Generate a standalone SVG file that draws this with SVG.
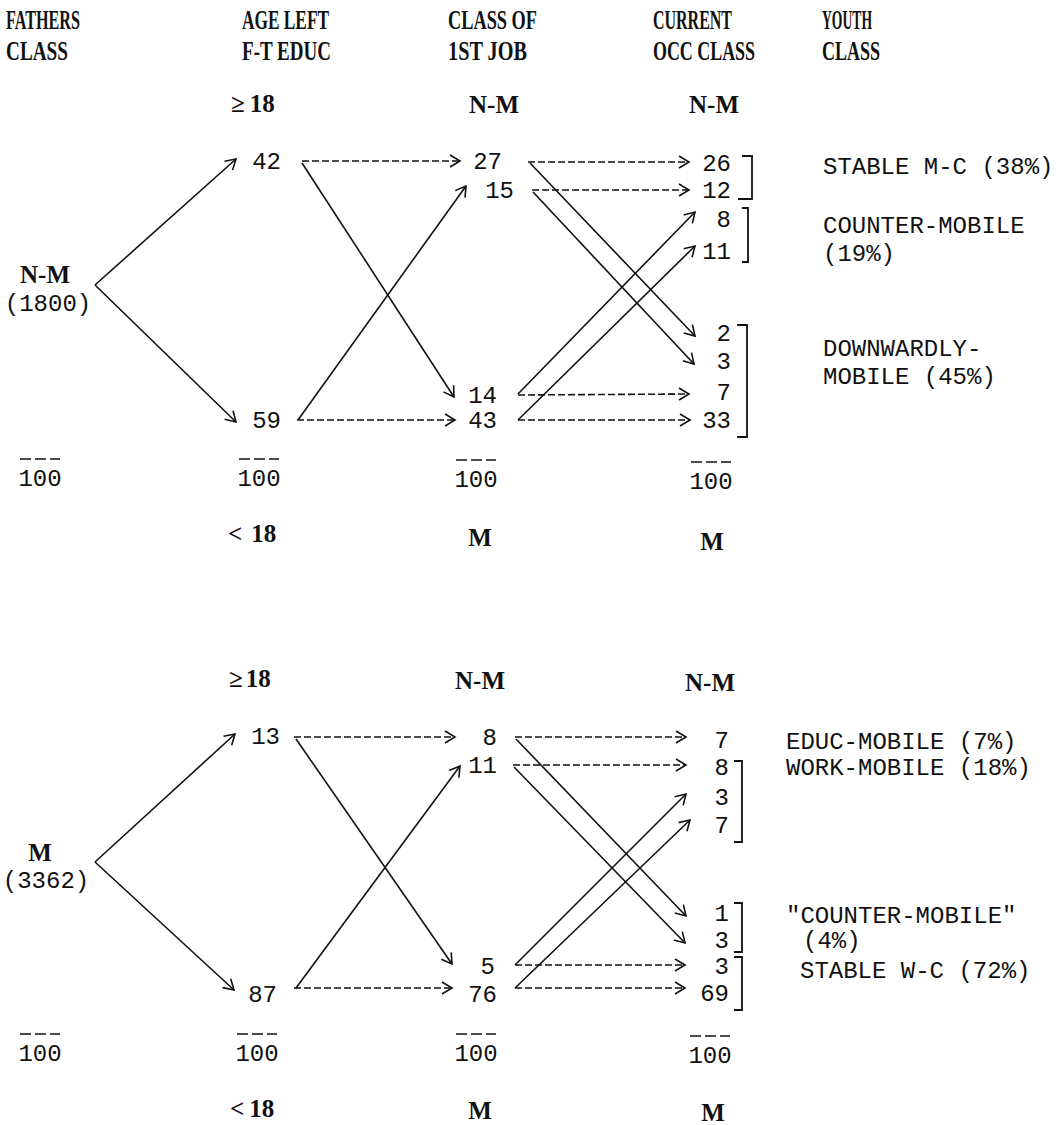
<svg xmlns="http://www.w3.org/2000/svg" width="1060" height="1125" viewBox="0 0 1060 1125">
<defs>
<marker id="ah" markerUnits="userSpaceOnUse" markerWidth="14" markerHeight="14" refX="11" refY="6" orient="auto" overflow="visible">
<path d="M1,0 L11,6 L1,12" fill="none" stroke="#111" stroke-width="1.6" stroke-linejoin="miter"/>
</marker>
<style>
.h{font-family:"Liberation Serif",serif;font-weight:bold;font-size:27px;fill:#111}
.n{font-family:"Liberation Mono",monospace;font-size:24px;fill:#111}
.b{font-family:"Liberation Serif",serif;font-weight:bold;font-size:25px;fill:#111}
.e{text-anchor:end}
.m{text-anchor:middle}
.c line,.c path{stroke:#111;stroke-width:1.6;fill:none}
.c .d{stroke-dasharray:7 3}
.ol{stroke:#111;stroke-width:1.5;stroke-dasharray:11 4;fill:none}
.br{stroke:#111;stroke-width:1.8;fill:none}
</style>
</defs>
<rect width="1060" height="1125" fill="#fff"/>

<g id="headers">
<text class="h" x="6" y="29" textLength="74" lengthAdjust="spacingAndGlyphs">FATHERS</text>
<text class="h" x="6" y="60" textLength="62" lengthAdjust="spacingAndGlyphs">CLASS</text>
<text class="h" x="242" y="29" textLength="87" lengthAdjust="spacingAndGlyphs">AGE LEFT</text>
<text class="h" x="242" y="60" textLength="89" lengthAdjust="spacingAndGlyphs">F-T EDUC</text>
<text class="h" x="448" y="29" textLength="89" lengthAdjust="spacingAndGlyphs">CLASS OF</text>
<text class="h" x="448" y="60" textLength="79" lengthAdjust="spacingAndGlyphs">1ST JOB</text>
<text class="h" x="653" y="29" textLength="79" lengthAdjust="spacingAndGlyphs">CURRENT</text>
<text class="h" x="653" y="60" textLength="102" lengthAdjust="spacingAndGlyphs">OCC CLASS</text>
<text class="h" x="822" y="29" textLength="50" lengthAdjust="spacingAndGlyphs">YOUTH</text>
<text class="h" x="822" y="60" textLength="58" lengthAdjust="spacingAndGlyphs">CLASS</text>
</g>

<!-- ===== TOP SECTION ===== -->
<g id="top-col-labels">
<text class="b" x="231" y="112">≥<tspan dx="5">18</tspan></text>
<text class="b m" x="494" y="113">N-M</text>
<text class="b m" x="714" y="113">N-M</text>
<text class="b" x="228" y="542">&lt;<tspan dx="9">18</tspan></text>
<text class="b m" x="480" y="546">M</text>
<text class="b m" x="712" y="550">M</text>
</g>
<g id="top-father">
<text class="b m" x="45" y="283">N-M</text>
<text class="n m" x="48" y="311">(1800)</text>
</g>
<g id="top-age-42"><text class="n e" x="281" y="169">42</text></g>
<g id="top-age-59"><text class="n e" x="281" y="428">59</text></g>
<g id="top-job-27"><text class="n e" x="502" y="169">27</text></g>
<g id="top-job-15"><text class="n e" x="514" y="198">15</text></g>
<g id="top-job-14"><text class="n e" x="497" y="403">14</text></g>
<g id="top-job-43"><text class="n e" x="497" y="428">43</text></g>
<g id="top-occ-26"><text class="n e" x="731" y="171">26</text></g>
<g id="top-occ-12"><text class="n e" x="731" y="198">12</text></g>
<g id="top-occ-8"><text class="n e" x="731" y="227">8</text></g>
<g id="top-occ-11"><text class="n e" x="731" y="259">11</text></g>
<g id="top-occ-2"><text class="n e" x="731" y="341">2</text></g>
<g id="top-occ-3"><text class="n e" x="731" y="369">3</text></g>
<g id="top-occ-7"><text class="n e" x="731" y="400">7</text></g>
<g id="top-occ-33"><text class="n e" x="731" y="428">33</text></g>
<g id="top-totals">
<text class="n m" x="40" y="486">100</text><line class="ol" x1="20" y1="459" x2="60" y2="459"/>
<text class="n m" x="259" y="486">100</text><line class="ol" x1="239" y1="459" x2="279" y2="459"/>
<text class="n m" x="476" y="487">100</text><line class="ol" x1="456" y1="460" x2="496" y2="460"/>
<text class="n m" x="711" y="489">100</text><line class="ol" x1="691" y1="462" x2="731" y2="462"/>
</g>
<g id="top-brackets">
<path class="br" d="M742,156 H752 V199 H738"/>
<path class="br" d="M742,208 H748 V262 H742"/>
<path class="br" d="M737,325 H747 V437 H737"/>
</g>
<g id="top-youth">
<text class="n" x="823" y="174">STABLE M-C (38%)</text>
<text class="n" x="823" y="233">COUNTER-MOBILE</text>
<text class="n" x="823" y="261">(19%)</text>
<text class="n" x="823" y="356">DOWNWARDLY-</text>
<text class="n" x="823" y="384">MOBILE (45%)</text>
</g>

<!-- ===== BOTTOM SECTION ===== -->
<g id="bot-col-labels">
<text class="b" x="229" y="687">≥<tspan dx="3">18</tspan></text>
<text class="b m" x="480" y="689">N-M</text>
<text class="b m" x="710" y="691">N-M</text>
<text class="b" x="230" y="1117">&lt;<tspan dx="5">18</tspan></text>
<text class="b m" x="480" y="1119">M</text>
<text class="b m" x="713" y="1121">M</text>
</g>
<g id="bot-father">
<text class="b m" x="40" y="861">M</text>
<text class="n m" x="46" y="888">(3362)</text>
</g>
<g id="bot-age-13"><text class="n e" x="280" y="744">13</text></g>
<g id="bot-age-87"><text class="n e" x="277" y="1002">87</text></g>
<g id="bot-job-8"><text class="n e" x="497" y="745">8</text></g>
<g id="bot-job-11"><text class="n e" x="497" y="773">11</text></g>
<g id="bot-job-5"><text class="n e" x="495" y="974">5</text></g>
<g id="bot-job-76"><text class="n e" x="497" y="1002">76</text></g>
<g id="bot-occ-7a"><text class="n e" x="729" y="748">7</text></g>
<g id="bot-occ-8"><text class="n e" x="729" y="775">8</text></g>
<g id="bot-occ-3a"><text class="n e" x="729" y="805">3</text></g>
<g id="bot-occ-7b"><text class="n e" x="729" y="833">7</text></g>
<g id="bot-occ-1"><text class="n e" x="729" y="921">1</text></g>
<g id="bot-occ-3b"><text class="n e" x="729" y="948">3</text></g>
<g id="bot-occ-3c"><text class="n e" x="729" y="974">3</text></g>
<g id="bot-occ-69"><text class="n e" x="729" y="1001">69</text></g>
<g id="bot-totals">
<text class="n m" x="40" y="1061">100</text><line class="ol" x1="20" y1="1034" x2="60" y2="1034"/>
<text class="n m" x="257" y="1061">100</text><line class="ol" x1="237" y1="1034" x2="277" y2="1034"/>
<text class="n m" x="476" y="1061">100</text><line class="ol" x1="456" y1="1034" x2="496" y2="1034"/>
<text class="n m" x="710" y="1063">100</text><line class="ol" x1="690" y1="1036" x2="730" y2="1036"/>
</g>
<g id="bot-brackets">
<path class="br" d="M734,761 H742 V842 H734"/>
<path class="br" d="M734,903 H742 V952 H734"/>
<path class="br" d="M734,957 H742 V1010 H734"/>
</g>
<g id="bot-youth">
<text class="n" x="786" y="749">EDUC-MOBILE (7%)</text>
<text class="n" x="786" y="775">WORK-MOBILE (18%)</text>
<text class="n" x="786" y="923">"COUNTER-MOBILE"</text>
<text class="n" x="803" y="948">(4%)</text>
<text class="n" x="800" y="978">STABLE W-C (72%)</text>
</g>

<g id="connectors" class="c">
<!-- top -->
<line x1="95" y1="285" x2="236" y2="159" marker-end="url(#ah)"/>
<line x1="95" y1="285" x2="236" y2="422" marker-end="url(#ah)"/>
<line class="d" x1="302" y1="161" x2="460" y2="161" marker-end="url(#ah)"/>
<line x1="302" y1="163" x2="454" y2="397" marker-end="url(#ah)"/>
<line x1="298" y1="420" x2="466" y2="186" marker-end="url(#ah)"/>
<line class="d" x1="297" y1="420" x2="455" y2="420" marker-end="url(#ah)"/>
<line class="d" x1="528" y1="162" x2="689" y2="162" marker-end="url(#ah)"/>
<line x1="530" y1="163" x2="695" y2="336" marker-end="url(#ah)"/>
<line class="d" x1="532" y1="190" x2="689" y2="190" marker-end="url(#ah)"/>
<line x1="533" y1="192" x2="694" y2="364" marker-end="url(#ah)"/>
<line x1="518" y1="394" x2="695" y2="212" marker-end="url(#ah)"/>
<line class="d" x1="518" y1="395" x2="689" y2="394" marker-end="url(#ah)"/>
<line x1="518" y1="420" x2="695" y2="246" marker-end="url(#ah)"/>
<line class="d" x1="518" y1="420" x2="690" y2="420" marker-end="url(#ah)"/>
<!-- bottom -->
<line x1="95" y1="862" x2="235" y2="734" marker-end="url(#ah)"/>
<line x1="95" y1="862" x2="234" y2="990" marker-end="url(#ah)"/>
<line class="d" x1="294" y1="737" x2="455" y2="737" marker-end="url(#ah)"/>
<line x1="296" y1="739" x2="452" y2="964" marker-end="url(#ah)"/>
<line x1="296" y1="988" x2="460" y2="766" marker-end="url(#ah)"/>
<line class="d" x1="294" y1="988" x2="452" y2="988" marker-end="url(#ah)"/>
<line class="d" x1="515" y1="737" x2="686" y2="737" marker-end="url(#ah)"/>
<line x1="516" y1="739" x2="686" y2="916" marker-end="url(#ah)"/>
<line class="d" x1="513" y1="765" x2="686" y2="765" marker-end="url(#ah)"/>
<line x1="514" y1="767" x2="685" y2="943" marker-end="url(#ah)"/>
<line x1="515" y1="965" x2="686" y2="794" marker-end="url(#ah)"/>
<line class="d" x1="515" y1="965" x2="685" y2="965" marker-end="url(#ah)"/>
<line x1="515" y1="988" x2="690" y2="820" marker-end="url(#ah)"/>
<line class="d" x1="515" y1="988" x2="685" y2="988" marker-end="url(#ah)"/>
</g>
</svg>
